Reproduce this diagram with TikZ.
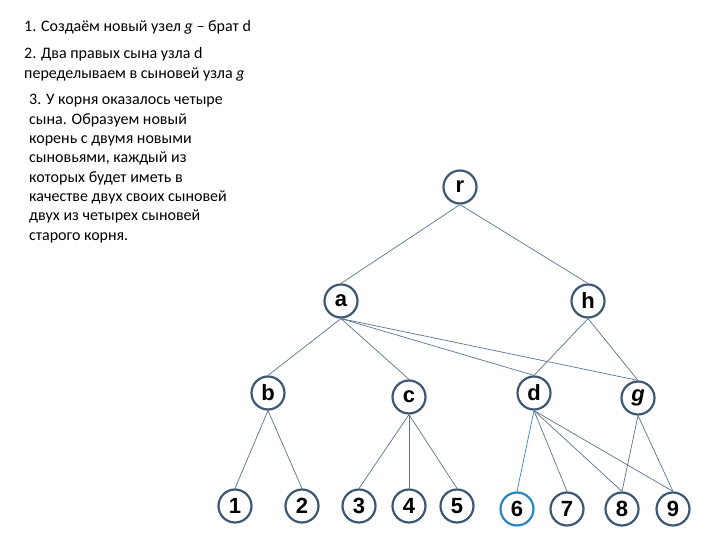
\documentclass[tikz,border=0pt]{standalone}
\usepackage{fontspec}
\setmainfont{Carlito}
\newfontfamily\labfont{Liberation Sans}
\definecolor{ring}{HTML}{3E5874}
\definecolor{ringsix}{HTML}{2A86C0}
\definecolor{edge}{HTML}{5C7190}
\begin{document}
\begin{tikzpicture}[x=1pt,y=-1pt,
  vert/.style={circle,draw=ring,line width=2.2pt,minimum size=33pt,inner sep=0pt,
    font=\labfont\fontsize{22}{22}\selectfont\bfseries},
  txt/.style={anchor=base west,inner sep=0pt,font=\fontsize{16}{19.2}\selectfont},
  link/.style={draw=edge,line width=0.7pt}]
\useasboundingbox (0,0) rectangle (720,540);
% text
\node[txt] (t1) at (24,32) {1. Создаём новый узел \textit{g} – брат d};
\node[txt] (t2a) at (24,59) {2. Два правых сына узла d};
\node[txt] (t2b) at (24,78.5) {переделываем в сыновей узла \textit{g}};
\node[txt] (t3a) at (29,105) {3. У корня оказалось четыре};
\node[txt] (t3b) at (29,124.3) {сына. Образуем новый};
\node[txt] (t3c) at (29,143.6) {корень с двумя новыми};
\node[txt] (t3d) at (29,162.9) {сыновьями, каждый из};
\node[txt] (t3e) at (29,182.2) {которых будет иметь в};
\node[txt] (t3f) at (29,201.5) {качестве двух своих сыновей};
\node[txt] (t3g) at (29,220.8) {двух из четырех сыновей};
\node[txt] (t3h) at (29,240.1) {старого корня.};
% nodes
\node[vert] (r) at (460,187) {r};
\node[vert] (a) at (341,301) {a};
\node[vert] (h) at (588,301) {h};
\node[vert] (b) at (268,393) {b};
\node[vert] (c) at (409,397) {c};
\node[vert] (d) at (534,393) {d};
\node[vert] (g) at (638,398) {\textit{g}};
\node[vert] (n1) at (235,506) {1};
\node[vert] (n2) at (302,506) {2};
\node[vert] (n3) at (359,506) {3};
\node[vert] (n4) at (409,506) {4};
\node[vert] (n5) at (457,506) {5};
\node[vert,draw=ringsix] (n6) at (517,509) {6};
\node[vert] (n7) at (567,509) {7};
\node[vert] (n8) at (622,509) {8};
\node[vert] (n9) at (673,509) {9};
% edges
\foreach \p/\q in {r/a,r/h,a/b,a/c,a/d,a/g,h/d,h/g,b/n1,b/n2,c/n3,c/n4,c/n5,d/n7,d/n8,d/n9,g/n8,g/n9}
  \draw[link] (\p.south) -- (\q.north);
\draw[draw=ringsix,line width=0.7pt] (d.south) -- (n6.north);
\end{tikzpicture}
\end{document}
